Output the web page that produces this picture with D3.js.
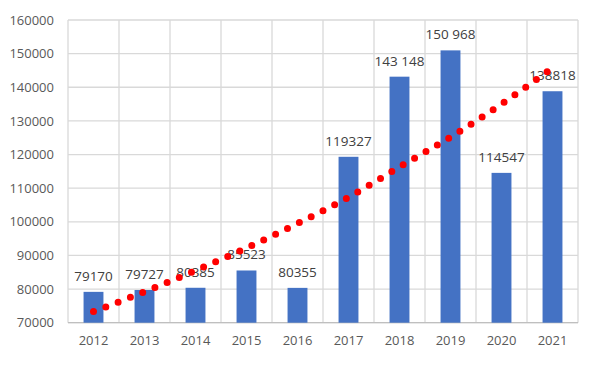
<!DOCTYPE html>
<html><head><meta charset="utf-8">
<script src="https://cdn.jsdelivr.net/npm/d3@7"></script>
<style>html,body{margin:0;padding:0;background:#fff;}svg{display:block;}</style>
</head><body>
<svg id="c" width="591" height="367"></svg>
<script>
const years = ["2012","2013","2014","2015","2016","2017","2018","2019","2020","2021"];
const values = [79170, 79727, 80385, 85523, 80355, 119327, 143148, 150968, 114547, 138818];
const labels = ["79170","79727","80385","85523","80355","119327","143 148","150 968","114547","138818"];
const trend = [73300, 79200, 85500, 92200, 99500, 107300, 116300, 125200, 135000, 145800];
const yTicks = [70000, 80000, 90000, 100000, 110000, 120000, 130000, 140000, 150000, 160000];

const svg = d3.select("#c");
const L = 68, R = 578, T = 20, B = 322.7;
const x = d3.scaleBand().domain(years).range([L, R]).paddingInner(0.61).paddingOuter(0.305);
const xb = d3.scaleBand().domain(years).range([L, R]);
const y = d3.scaleLinear().domain([70000, 160000]).range([B, T]);

const font = "'Open Sans', 'Liberation Sans', sans-serif";

// horizontal grid
svg.append("g").selectAll("line").data(yTicks).join("line")
  .attr("x1", L).attr("x2", R).attr("y1", d => y(d)).attr("y2", d => y(d))
  .attr("stroke", "#d9d9d9").attr("stroke-width", 1.3);
// vertical grid at band boundaries
const vx = years.map(d => xb(d)).concat([R]);
svg.append("g").selectAll("line").data(vx).join("line")
  .attr("x1", d => d).attr("x2", d => d).attr("y1", T).attr("y2", B)
  .attr("stroke", "#d9d9d9").attr("stroke-width", 1.3);
// bottom axis line
svg.append("line").attr("x1", L).attr("x2", R).attr("y1", B).attr("y2", B)
  .attr("stroke", "#bfbfbf").attr("stroke-width", 1.3);

// y axis labels
const yAxis = d3.axisLeft(y).tickValues(yTicks).tickSize(0).tickPadding(14).tickFormat(d3.format("d"));
const ya = svg.append("g").attr("transform", `translate(${L},0)`).call(yAxis);
ya.select(".domain").remove();
ya.selectAll("text").attr("font-family", font).attr("font-size", 13).attr("fill", "#595959");

// x axis labels
const xAxis = d3.axisBottom(xb).tickSize(0).tickPadding(13);
const xa = svg.append("g").attr("transform", `translate(0,${B})`).call(xAxis);
xa.select(".domain").remove();
xa.selectAll("text").attr("font-family", font).attr("font-size", 13).attr("fill", "#595959");

// bars
svg.append("g").selectAll("rect").data(values).join("rect")
  .attr("x", (d, i) => x(years[i])).attr("width", x.bandwidth())
  .attr("y", d => y(d)).attr("height", d => B - y(d))
  .attr("fill", "#4472c4");

// data labels
svg.append("g").selectAll("text").data(values).join("text")
  .attr("x", (d, i) => x(years[i]) + x.bandwidth() / 2)
  .attr("y", d => y(d) - 11)
  .attr("text-anchor", "middle")
  .attr("font-family", font).attr("font-size", 13.5).attr("fill", "#404040")
  .text((d, i) => labels[i]);

// trend line (round dotted)
const line = d3.line()
  .x((d, i) => xb(years[i]) + xb.bandwidth() / 2)
  .y(d => y(d))
  .curve(d3.curveMonotoneX);
svg.append("path").datum(trend).attr("d", line)
  .attr("fill", "none").attr("stroke", "#ff0000").attr("stroke-width", 7)
  .attr("stroke-linecap", "round").attr("stroke-dasharray", "0 13.2");
</script>
</body></html>
